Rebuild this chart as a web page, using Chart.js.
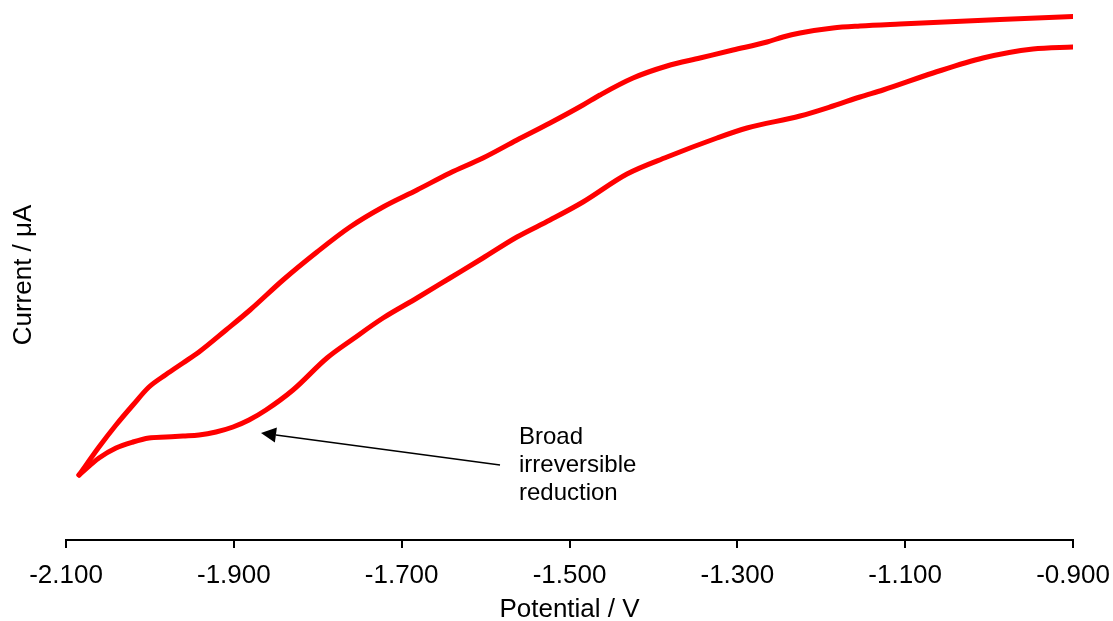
<!DOCTYPE html>
<html><head><meta charset="utf-8">
<script src="https://cdn.jsdelivr.net/npm/chart.js@4/dist/chart.umd.min.js"></script>
<style>html,body{margin:0;padding:0;background:#fff;}#wrap{width:1113px;height:621px;position:relative;}</style>
</head><body><div id="wrap"><canvas id="c"></canvas></div>
<script>
// Forward branch (upper trace), from switching vertex to -0.9 V
const potentialUpper = [-2.0845,-2.0607,-2.0404,-2.0202,-2.0011,-1.9808,-1.9606,-1.9415,-1.9093,-1.8807,-1.8414,-1.8009,-1.7616,-1.7222,-1.6817,-1.6424,-1.6031,-1.5626,-1.5232,-1.4839,-1.4637,-1.4243,-1.3838,-1.3445,-1.3052,-1.2646,-1.2456,-1.2253,-1.1860,-1.1538,-1.1062,-0.9870,-0.9000];
const currentUpper   = [6.5,9.3,11.5,13.5,15.3,16.55,17.7,18.8,21.0,23.0,26.0,28.8,31.3,33.3,35.0,36.7,38.2,40.0,41.7,43.5,44.5,46.2,47.4,48.2,49.0,49.8,50.3,50.7,51.2,51.4,51.6,52.05,52.35];
// Return branch (lower trace), from switching vertex to -0.9 V
const potentialLower = [-2.0845,-2.0607,-2.0404,-2.0202,-2.0011,-1.9808,-1.9606,-1.9415,-1.9213,-1.9010,-1.8819,-1.8617,-1.8295,-1.7890,-1.7580,-1.7222,-1.6817,-1.6424,-1.6031,-1.5626,-1.5232,-1.4839,-1.4315,-1.3838,-1.3242,-1.2885,-1.2253,-1.1860,-1.1538,-1.1264,-1.0668,-1.0073,-0.9477,-0.9000];
const currentLower   = [6.5,8.2,9.2,9.8,10.2,10.3,10.4,10.5,10.8,11.3,12.0,13.0,15.0,18.2,20.1,22.2,24.2,26.2,28.2,30.3,32.0,33.8,36.6,38.3,40.2,41.2,42.4,43.4,44.3,45.0,46.7,48.2,49.1,49.3];
const xTickValues = [-2.1,-1.9,-1.7,-1.5,-1.3,-1.1,-0.9];
const xTitle = 'Potential / V';
const yTitle = 'Current / μA';
const annotationLines = ['Broad','irreversible','reduction'];
const arrowTail = [-1.5828, 7.5];
const arrowHead = [-1.8676, 10.7];
const labelAnchor = [-1.5602, 10.3];

const FONT = "Arial, 'Liberation Sans', sans-serif";
const toPts = (xs, ys) => xs.map((x, i) => ({x, y: ys[i]}));

const annotationPlugin = {
  id: 'annot',
  afterDatasetsDraw(chart) {
    const {ctx, scales: {x, y}} = chart;
    const tx = x.getPixelForValue(arrowTail[0]), ty = y.getPixelForValue(arrowTail[1]);
    const hx = x.getPixelForValue(arrowHead[0]), hy = y.getPixelForValue(arrowHead[1]);
    const ang = Math.atan2(hy - ty, hx - tx);
    const headLen = 15, headW = 7.5;
    const bx = hx - headLen * Math.cos(ang), by = hy - headLen * Math.sin(ang);
    ctx.save();
    ctx.strokeStyle = '#000'; ctx.fillStyle = '#000'; ctx.lineWidth = 1.5;
    ctx.beginPath(); ctx.moveTo(tx, ty); ctx.lineTo(bx, by); ctx.stroke();
    ctx.beginPath();
    ctx.moveTo(hx, hy);
    ctx.lineTo(bx + headW * Math.sin(ang), by - headW * Math.cos(ang));
    ctx.lineTo(bx - headW * Math.sin(ang), by + headW * Math.cos(ang));
    ctx.closePath(); ctx.fill();
    ctx.font = '24px ' + FONT;
    ctx.textAlign = 'left'; ctx.textBaseline = 'middle';
    const lx = x.getPixelForValue(labelAnchor[0]), ly = y.getPixelForValue(labelAnchor[1]);
    annotationLines.forEach((t, i) => ctx.fillText(t, lx, ly + i * 28));
    ctx.restore();
  }
};

new Chart(document.getElementById('c'), {
  type: 'scatter',
  data: {
    datasets: [
      {data: toPts(potentialUpper, currentUpper)},
      {data: toPts(potentialLower, currentLower)}
    ].map(d => Object.assign(d, {
      showLine: true, pointRadius: 0, borderColor: '#ff0000', backgroundColor: '#ff0000',
      borderWidth: 5, cubicInterpolationMode: 'monotone', tension: 0.4,
      borderCapStyle: 'round', borderJoinStyle: 'round'
    }))
  },
  options: {
    responsive: true, maintainAspectRatio: false, animation: false,
    devicePixelRatio: 1,
    layout: {padding: {top: 10, right: 40, bottom: 0, left: 0}},
    plugins: {legend: {display: false}, tooltip: {enabled: false}},
    scales: {
      x: {
        type: 'linear', position: 'bottom', min: -2.1, max: -0.9,
        afterBuildTicks: axis => { axis.ticks = xTickValues.map(v => ({value: v})); },
        afterFit: axis => { axis.height = 81; axis.paddingLeft = 0; axis.paddingRight = 0; },
        grid: {display: true, drawOnChartArea: false, drawTicks: true, tickLength: 8, color: '#000', lineWidth: 2},
        border: {display: true, color: '#000', width: 2},
        ticks: {color: '#000', padding: 12, maxRotation: 0, autoSkip: false,
          font: {size: 26, family: FONT}, callback: v => Number(v).toFixed(3)},
        title: {display: true, text: xTitle, color: '#000', font: {size: 26, family: FONT, lineHeight: 1}, padding: {top: 0, bottom: -2}}
      },
      y: {
        type: 'linear', min: 0, max: 53,
        afterFit: axis => { axis.width = 66; },
        grid: {display: false}, border: {display: false},
        ticks: {display: false},
        title: {display: true, text: yTitle, color: '#000', font: {size: 26, family: FONT, lineHeight: 1}, padding: {top: 11, bottom: 0}}
      }
    }
  },
  plugins: [annotationPlugin]
});
</script></body></html>
